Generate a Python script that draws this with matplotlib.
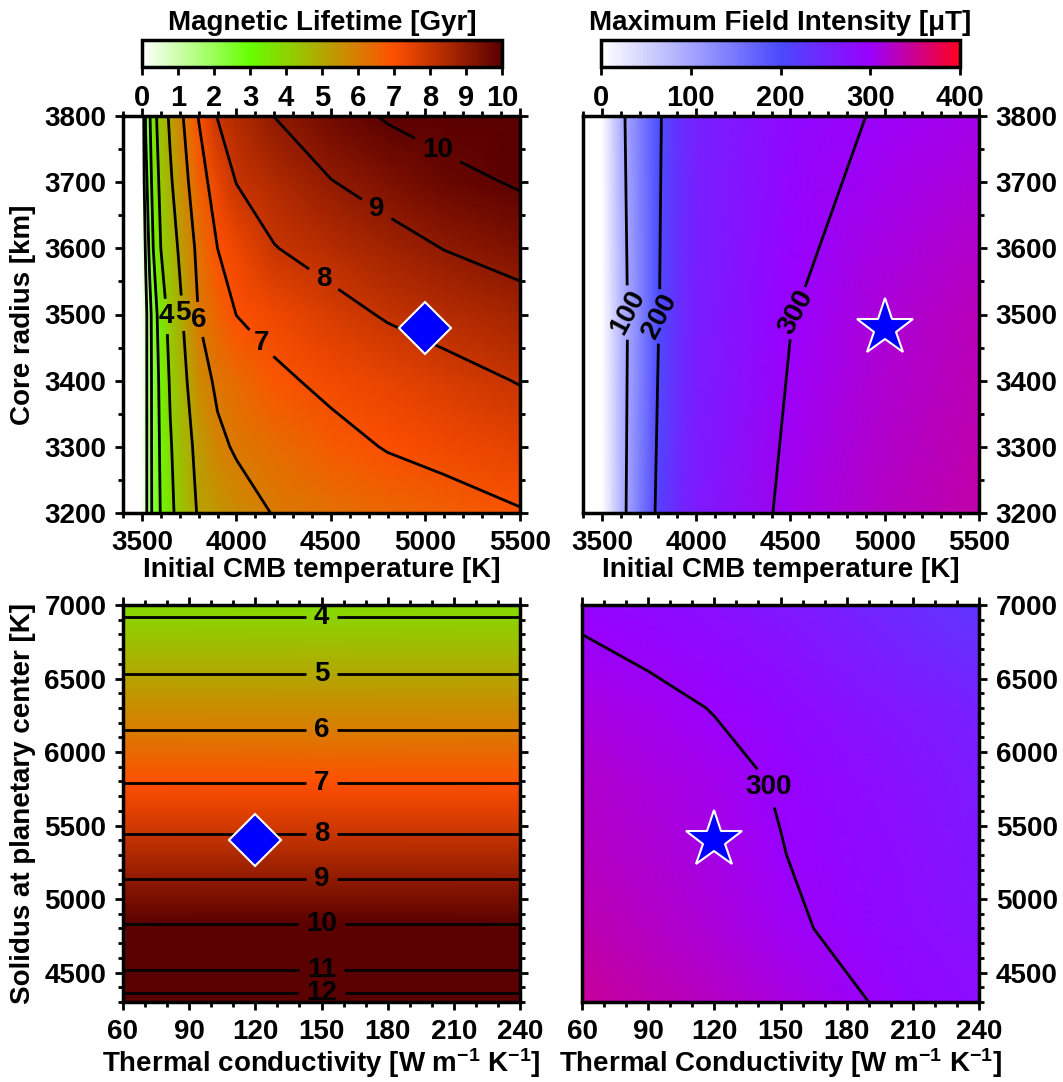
import numpy as np
import matplotlib
matplotlib.use('Agg')
import matplotlib.pyplot as plt
from matplotlib.colors import LinearSegmentedColormap, Normalize
from matplotlib.cm import ScalarMappable
from matplotlib.ticker import MultipleLocator

plt.rcParams['font.family'] = ['Liberation Sans', 'DejaVu Sans']
plt.rcParams['font.weight'] = 'bold'
plt.rcParams['axes.labelweight'] = 'bold'
plt.rcParams['font.size'] = 20
plt.rcParams['mathtext.default'] = 'regular'
plt.rcParams['axes.linewidth'] = 2.5

# ---- top row: initial CMB temperature [K] x core radius [km]
t_cmb = [3400, 3500, 3520, 3540, 3560, 3600, 3650, 3700, 3800, 3900, 4000, 4200, 4500, 4800, 5100, 5500]
r_core = [3200, 3300, 3400, 3500, 3600, 3700, 3800]
# magnetic lifetime [Gyr], one row per core radius
life_top = [
    [0, 0, 0.74, 1.62, 2.25, 3.06, 3.78, 4.33, 5.08, 5.36, 5.63, 6.04, 6.25, 6.46, 6.67, 6.95],
    [0, 0, 0.74, 1.62, 2.29, 3.15, 3.92, 4.45, 5.26, 5.83, 6.09, 6.34, 6.73, 7.05, 7.24, 7.49],
    [0, 0, 0.74, 1.62, 2.32, 3.27, 4.10, 4.60, 5.63, 6.15, 6.38, 6.84, 7.19, 7.45, 7.70, 8.04],
    [0, 0, 0.74, 1.62, 2.44, 3.53, 4.29, 4.82, 6.02, 6.53, 7.01, 7.29, 7.72, 8.08, 8.33, 8.65],
    [0, 0, 1.12, 2.20, 3.00, 4.00, 4.56, 5.12, 6.23, 7.00, 7.32, 7.97, 8.33, 8.68, 9.02, 9.34],
    [0, 0, 1.67, 2.60, 3.33, 4.25, 4.88, 5.47, 6.61, 7.42, 8.02, 8.40, 8.97, 9.34, 9.70, 10.10],
    [0, 0, 2.12, 2.88, 3.65, 4.45, 5.15, 5.77, 7.03, 8.03, 8.36, 9.01, 9.60, 10.09, 10.40, 10.80],
]
t_field = [3400, 3500, 3550, 3600, 3700, 3800, 3900, 4000, 4500, 5000, 5500]
r_field = [3200, 3500, 3800]
# maximum field intensity [uT]
field_top = [
    [0, 0, 40, 82, 145, 212, 245, 265, 308, 325, 338],
    [0, 0, 40, 80, 135, 198, 235, 258, 299, 318, 330],
    [0, 0, 45, 88, 141, 194, 232, 255, 288, 303, 310],
]

# ---- bottom row: thermal conductivity x solidus at planetary center [K]
k_cond = [60, 90, 120, 150, 180, 210, 240]
solidus_life = [4300, 4362, 4519, 4831, 5137, 5443, 5790, 6150, 6531, 6918, 7000]
life_solidus = [12.4, 12, 11, 10, 9, 8, 7, 6, 5, 4, 3.8]
solidus_field = [4300, 4800, 5300, 5800, 6300, 6800, 7000]
field_bottom = [
    [345, 335, 325, 315, 304, 292, 282],
    [335, 325, 316, 306, 294, 284, 275],
    [328, 320, 311, 301, 290, 280, 270],
    [322, 315, 308, 298, 287, 276, 265],
    [314, 307, 299, 289, 278, 266, 255],
    [300, 293, 285, 275, 262, 248, 235],
    [294, 287, 279, 268, 255, 242, 228],
]

# reference case (marker)
ref_tcmb, ref_rcore = 5000, 3480
ref_k, ref_solidus = 120, 5400

plain_levels = [1, 2, 3]
label_levels = [4, 5, 6, 7, 8, 9, 10, 11, 12]
field_levels = [100, 200, 300]

cmap_life = LinearSegmentedColormap.from_list(
    'life', [(0, 'white'), (0.3, '#66ff00'), (0.7, '#ff5000'), (1, '#5a0000')])
cmap_field = LinearSegmentedColormap.from_list(
    'field', [(0, 'white'), (0.5, '#4a4aff'), (0.75, '#9900ff'), (1, '#ff0020')])
norm_life = Normalize(0, 10)
norm_field = Normalize(0, 400)

W, H = 1063, 1082
fig = plt.figure(figsize=(W / 100, H / 100), dpi=100)


def box(l, t, r, b):
    return [l / W, 1 - b / H, (r - l) / W, (b - t) / H]


def style(ax, side):
    ax.tick_params(which='both', direction='out', width=2, top=True, bottom=True,
                   left=(side == 'left'), right=True,
                   labelleft=(side == 'left'), labelright=(side == 'right'))
    ax.tick_params(which='major', length=6, pad=6)
    ax.tick_params(which='minor', length=3.5)


def upright(labels, angle=0):
    for t in labels:
        t.set_rotation(angle)


ax1 = fig.add_axes(box(123, 116, 520, 513))
ax2 = fig.add_axes(box(583, 116, 979, 513))
ax3 = fig.add_axes(box(123, 605, 520, 1002))
ax4 = fig.add_axes(box(582, 605, 979, 1002))

# top left: lifetime
ax1.pcolormesh(t_cmb, r_core, life_top, cmap=cmap_life, norm=norm_life, shading='gouraud')
ax1.contour(t_cmb, r_core, life_top, levels=plain_levels, colors='k', linewidths=2)
cs = ax1.contour(t_cmb, r_core, life_top, levels=label_levels, colors='k', linewidths=2)
lab = ax1.clabel(cs, fmt='%d', fontsize=20, inline_spacing=10,
                 manual=[(3622, 3497), (3717, 3502), (3797, 3492), (4114, 3452),
                         (4453, 3550), (4722, 3651), (5050, 3741)])
upright(lab)
ax1.plot(ref_tcmb, ref_rcore, 'D', ms=26, mfc='blue', mec='white', mew=1.5)

# top right: field
ax2.pcolormesh(t_field, r_field, field_top, cmap=cmap_field, norm=norm_field, shading='gouraud')
cs = ax2.contour(t_field, r_field, field_top, levels=field_levels, colors='k', linewidths=2)
lab = ax2.clabel(cs, fmt='%d', fontsize=20, inline_spacing=4,
                 manual=[(3644, 3503), (3808, 3497), (4478, 3508)])
upright(lab, 62)
ax2.plot(ref_tcmb, ref_rcore, '*', ms=43, mfc='blue', mec='white', mew=1.5)

# bottom left: lifetime vs solidus
life_grid = np.tile(np.array(life_solidus)[:, None], (1, 2))
ax3.pcolormesh([k_cond[0], k_cond[-1]], solidus_life, life_grid, cmap=cmap_life,
               norm=norm_life, shading='gouraud')
cs = ax3.contour([k_cond[0], k_cond[-1]], solidus_life, life_grid, levels=label_levels,
                 colors='k', linewidths=2)
lab = ax3.clabel(cs, fmt='%d', fontsize=20, inline_spacing=8,
                 manual=[(150, s) for s in solidus_life[1:-1]])
upright(lab)
ax3.plot(ref_k, ref_solidus, 'D', ms=26, mfc='blue', mec='white', mew=1.5)

# bottom right: field vs solidus
ax4.pcolormesh(k_cond, solidus_field, field_bottom, cmap=cmap_field, norm=norm_field,
               shading='gouraud')
cs = ax4.contour(k_cond, solidus_field, field_bottom, levels=field_levels, colors='k',
                 linewidths=2)
lab = ax4.clabel(cs, fmt='%d', fontsize=20, inline_spacing=-2, manual=[(144, 5760)])
upright(lab)
ax4.plot(ref_k, ref_solidus, '*', ms=43, mfc='blue', mec='white', mew=1.5)

for ax, side in [(ax1, 'left'), (ax2, 'right')]:
    ax.set_xlim(3400, 5500)
    ax.set_ylim(3200, 3800)
    ax.xaxis.set_major_locator(MultipleLocator(500))
    ax.xaxis.set_minor_locator(MultipleLocator(100))
    ax.yaxis.set_major_locator(MultipleLocator(100))
    ax.yaxis.set_minor_locator(MultipleLocator(50))
    ax.set_xlabel('Initial CMB temperature [K]', labelpad=1)
    style(ax, side)
ax1.set_ylabel('Core radius [km]', labelpad=6)

for ax, side in [(ax3, 'left'), (ax4, 'right')]:
    ax.set_xlim(60, 240)
    ax.set_ylim(4300, 7000)
    ax.xaxis.set_major_locator(MultipleLocator(30))
    ax.xaxis.set_minor_locator(MultipleLocator(10))
    ax.yaxis.set_major_locator(MultipleLocator(500))
    ax.yaxis.set_minor_locator(MultipleLocator(100))
    style(ax, side)
ax3.set_xlabel('Thermal conductivity [W m$^{-1}$ K$^{-1}$]', labelpad=1)
ax4.set_xlabel('Thermal Conductivity [W m$^{-1}$ K$^{-1}$]', labelpad=1)
ax3.set_ylabel('Solidus at planetary center [K]', labelpad=6)

# colorbars on top
cax1 = fig.add_axes(box(142, 40, 502, 67))
cb1 = fig.colorbar(ScalarMappable(norm_life, cmap_life), cax=cax1, orientation='horizontal',
                   ticks=range(0, 11))
cax2 = fig.add_axes(box(601, 40, 960, 67))
cb2 = fig.colorbar(ScalarMappable(norm_field, cmap_field), cax=cax2, orientation='horizontal',
                   ticks=range(0, 401, 100))
for cb in (cb1, cb2):
    cb.outline.set_linewidth(2.5)
    cb.ax.tick_params(length=6, width=2, pad=6, labelsize=21)
cax1.set_title('Magnetic Lifetime [Gyr]', fontsize=20, pad=7, fontweight='bold')
cax2.set_title('Maximum Field Intensity [μT]', fontsize=20, pad=7, fontweight='bold')

fig.savefig('out.png', dpi=100)
